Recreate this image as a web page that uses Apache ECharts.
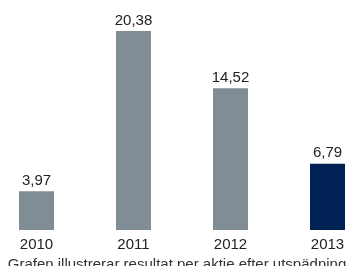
<!DOCTYPE html>
<html>
<head>
<meta charset="utf-8">
<script src="https://cdn.jsdelivr.net/npm/echarts@6/dist/echarts.min.js"></script>
<style>
  html, body { margin: 0; padding: 0; background: #fff; }
  #chart { width: 354px; height: 266px; }
</style>
</head>
<body>
<div id="chart"></div>
<script>
  const years = ['2010', '2011', '2012', '2013']
  const values = [3.97, 20.38, 14.52, 6.79]
  const barColors = ['#808d94', '#808d94', '#808d94', '#002255']
  const caption = 'Grafen illustrerar resultat per aktie efter utspädning'

  const chart = echarts.init(document.getElementById('chart'))
  chart.setOption({
    animation: false,
    textStyle: { fontFamily: 'Liberation Sans, Arial, sans-serif' },
    title: {
      text: caption,
      left: 'center',
      top: 252,
      textStyle: { fontSize: 15, fontWeight: 'normal', color: '#333' }
    },
    grid: { left: 36.5, right: 26.5, top: 15.3, bottom: 36 },
    xAxis: {
      type: 'category',
      data: years,
      boundaryGap: false,
      axisLine: { show: false },
      axisTick: { show: false },
      axisLabel: { fontSize: 15, color: '#222', margin: 7 }
    },
    yAxis: {
      type: 'value',
      min: 0,
      max: 22,
      show: false,
      splitLine: { show: false }
    },
    series: [{
      type: 'bar',
      barWidth: 35,
      data: values.map((v, i) => ({ value: v, itemStyle: { color: barColors[i] } })),
      label: {
        show: true,
        position: 'top',
        distance: 3,
        fontSize: 15,
        color: '#222',
        formatter: (p) => p.value.toFixed(2).replace('.', ',')
      }
    }]
  })
</script>
</body>
</html>
